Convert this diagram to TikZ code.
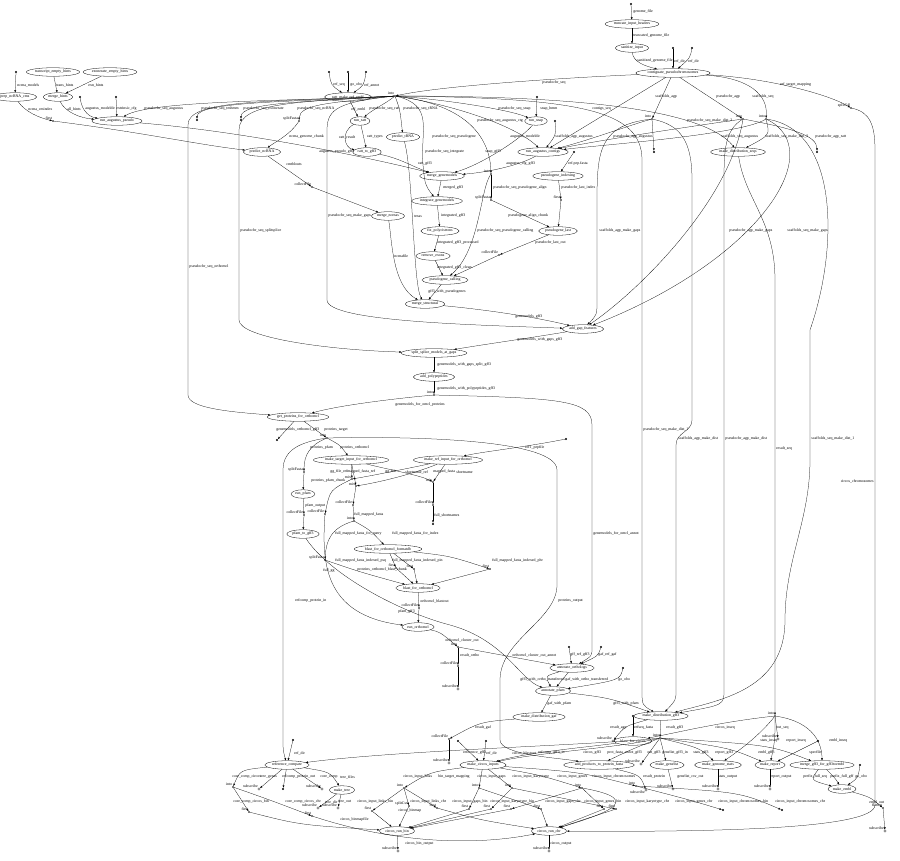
\documentclass[tikz,border=0pt]{standalone}
\usepackage{fontspec}
\setmainfont{Liberation Serif}
\usetikzlibrary{shapes.geometric,arrows.meta}
\begin{document}
\catcode`\_=12
\begin{tikzpicture}[x=1pt,y=-1pt,line width=0.25pt,
  every node/.style={font=\fontsize{3.9}{4.3}\selectfont},
  proc/.style={ellipse,draw,line width=0.3pt,inner xsep=0.8pt,inner ysep=0.2pt,minimum height=8.5pt},
  src/.style={circle,fill,inner sep=0pt,minimum size=2.2pt},
  op/.style={circle,fill,inner sep=0pt,minimum size=1.6pt,label distance=-0.4pt,label={[lb]above left:#1}},
  sub/.style={circle,draw,fill=white,inner sep=0pt,minimum size=2.4pt,label distance=-0.4pt,label={[lb]above left:#1}},
  subbl/.style={circle,draw,fill=white,inner sep=0pt,minimum size=2.4pt,label distance=-0.4pt,label={[lb]below left:#1}},
  lb/.style={inner sep=0.2pt},
  el/.style={inner sep=0.2pt,anchor=west},
  e/.style={draw,-{Latex[length=2.4pt,width=1.9pt]}},
]
\useasboundingbox (0,0) rectangle (900,861);
% =============== NODES
% top chain
\node[src] (sgenome) at (631,4) {};
\node[proc] (trunc) at (632,24) {truncate_input_headers};
\node[proc] (sanit) at (632,48) {sanitize_input};
\node[src] (srefa) at (673,48) {};
\node[src] (srefb) at (692,48) {};
\node[proc] (contig) at (673,73) {contiguate_pseudochromosomes};
% left
\node[src] (sncrna) at (16,72) {};
\node[proc] (prep) at (15,97) {prep_ncRNA_cms};
\node[proc] (teh) at (53,72) {transcript_empty_hints};
\node[proc] (eeh) at (110,72) {exonerate_empty_hints};
\node[proc] (mh) at (58,97) {merge_hints};
\node[src] (samd) at (80,97) {};
\node[src] (secfg) at (116,97) {};
\node[proc] (rap) at (117,121) {run_augustus_pseudo};
\node[op=first] (ofirst1) at (53,121) {};
% mid top
\node[src] (sr1) at (329,72) {};
\node[src] (sr2) at (348,72) {};
\node[src] (sr3) at (366,72) {};
\node[proc] (rmre) at (348,97) {ratt_make_ref_embl};
\node[op=into] (ointo1) at (395,96) {};
\node[src] (ssink1) at (197,120) {};
\node[src] (ssink2) at (241,120) {};
\node[op=splitFasta] (osplit1) at (299,121) {};
\node[proc] (rratt) at (360,121) {run_ratt};
\node[proc] (ptrna) at (403,137) {predict_tRNA};
\node[proc] (pncrna) at (262,152) {predict_ncRNA};
\node[proc] (r2g) at (367,152) {ratt_to_gff3};
\node[op=collectFile] (ocol1) at (312,187) {};
\node[proc] (mnc) at (388,216) {merge_ncrnas};
% centre
\node[src] (ssnap) at (537,97) {};
\node[proc] (rsnap) at (536,121) {run_snap};
\node[src] (samd2) at (555,121) {};
\node[proc] (rac) at (543,152) {run_augustus_contigs};
\node[src] (spep) at (574,152) {};
\node[proc] (pidx) at (558,176) {pseudogene_indexing};
\node[op=into] (ointops) at (491,174) {};
\node[op=splitFasta] (osplitps) at (491,200) {};
\node[op=first] (ofirstps) at (561,200) {};
\node[proc] (plast) at (558,231) {pseudogene_last};
\node[op=collectFile] (ocolps) at (499,255) {};
\node[proc] (mgm) at (442,176) {merge_genemodels};
\node[proc] (integ) at (437,201) {integrate_genemodels};
\node[proc] (fixp) at (440,231) {fix_polycistrons};
\node[proc] (remx) at (433,256) {remove_exons};
\node[proc] (pcall) at (445,280) {pseudogene_calling};
\node[proc] (mstr) at (425,304) {merge_structural};
\node[proc] (agf) at (583,329) {add_gap_features};
\node[proc] (sspl) at (434,353) {split_splice_models_at_gaps};
\node[proc] (addp) at (434,377) {add_polypeptides};
\node[op=into] (ointo5) at (434,395) {};
% right top
\node[op=into] (ointo2) at (652,119) {};
\node[op=into] (ointo3) at (743,119) {};
\node[op=into] (ointo4) at (766,119) {};
\node[src] (ssink3) at (654,152) {};
\node[src] (ssink4) at (817,152) {};
\node[proc] (mds) at (738,152) {make_distribution_seqs};
\node[op=splitGff] (osplitgff) at (851,108) {};
% lower middle
\node[proc] (gpo) at (298,417) {get_proteins_for_orthomcl};
\node[src] (ssink5) at (277,440) {};
\node[op=into] (ointo6) at (327,438) {};
\node[proc] (mtio) at (351,460) {make_target_input_for_orthomcl};
\node[proc] (mrio) at (448,460) {make_ref_input_for_orthomcl};
\node[src] (srefpep) at (566,439) {};
\node[op=splitFasta] (osplitpfam) at (304,472) {};
\node[proc] (rpfam) at (303,494) {run_pfam};
\node[op=collectFile] (ocolpfam) at (304,515) {};
\node[proc] (pfam2) at (303,534) {pfam_to_gff3};
\node[op=mix] (omixa) at (352,479) {};
\node[op=mix] (omixb) at (356,486) {};
\node[op=mix] (omixc) at (433,482) {};
\node[op=collectFile] (ocolgg) at (325,514) {};
\node[op=collectFile] (ocolfa) at (353,505) {};
\node[op=collectFile] (ocolsn) at (433,505) {};
\node[src] (ssink6) at (433,524) {};
\node[op=into] (ointofa) at (354,521) {};
\node[proc] (fdb) at (388,549) {blast_for_orthomcl_formatdb};
\node[op=splitFasta] (osplitbl) at (325,560) {};
\node[op=first] (ofa) at (396,568) {};
\node[op=first] (ofb) at (414,569) {};
\node[op=first] (ofc) at (490,569) {};
\node[proc] (blast) at (418,588) {blast_for_orthomcl};
\node[op=collectFile] (ocolbl) at (419,608) {};
\node[proc] (romcl) at (418,627) {run_orthomcl};
% orthologs / annotation
\node[op=into] (ointoom) at (458,647) {};
\node[op=collectFile] (ocolor) at (458,666) {};
\node[sub=subscribe] (osubor) at (458,689) {};
\node[src] (sgffref) at (569,647) {};
\node[src] (sgafref) at (601,647) {};
\node[proc] (aorth) at (572,668) {annotate_orthologs};
\node[src] (sgoobo) at (623,668) {};
\node[proc] (apfam) at (553,691) {annotate_pfam};
\node[proc] (mdgaf) at (539,717) {make_distribution_gaf};
\node[proc] (mdg3) at (661,716) {make_distribution_gff3};
\node[op=collectFile] (ocolgaf) at (449,739) {};
\node[sub=subscribe] (osubgaf) at (449,763) {};
% bottom right
\node[src] (spt) at (633,716) {};
\node[proc] (bfc) at (633,741) {blast_for_circos};
\node[sub=subscribe] (osubd) at (613,741) {};
\node[op=into] (ointog3) at (660,738) {};
\node[op=into] (ointoseq) at (775,716) {};
\node[sub=subscribe] (osubseq) at (778,739) {};
\node[src] (sseqf) at (818,741) {};
\node[src] (smci1) at (458,741) {};
\node[src] (smci2) at (486,741) {};
\node[proc] (mci) at (483,765) {make_circos_inputs};
\node[proc] (app) at (599,765) {add_products_to_protein_fasta};
\node[sub=subscribe] (osubog) at (641,764) {};
\node[proc] (mgl) at (667,765) {make_genelist};
\node[proc] (mgs) at (718,765) {make_genome_stats};
\node[proc] (mrep) at (770,765) {make_report};
\node[proc] (mge) at (822,765) {merge_gff3_for_gff3toembl};
\node[src] (sgoobo2) at (860,765) {};
\node[proc] (membl) at (842,789) {make_embl};
\node[op=flatten] (oembl) at (883,808) {};
\node[sub=subscribe] (osubembl) at (885,831) {};
\node[sub=subscribe] (osubgl) at (673,789) {};
\node[sub=subscribe] (osubst) at (718,789) {};
\node[sub=subscribe] (osubrp) at (770,789) {};
\node[subbl=subscribe] (osubpr) at (646,790) {};
% bottom left
\node[src] (srefdir) at (293,740) {};
\node[proc] (rcmp) at (287,765) {reference_compare};
\node[op=into] (ointocc) at (233,787) {};
\node[sub=subscribe] (osubtg) at (259,789) {};
\node[src] (ssink7) at (283,789) {};
\node[sub=subscribe] (osubcc) at (322,789) {};
\node[proc] (mtree) at (342,790) {make_tree};
\node[op=first] (ofcb) at (249,812) {};
\node[op=first] (ofcc) at (312,816) {};
\node[sub=subscribe] (osubtd) at (318,808) {};
\node[sub=subscribe] (osubto) at (338,808) {};
\node[proc] (crb) at (397,831) {circos_run_bin};
\node[sub=subscribe] (osubcb) at (398,851) {};
\node[proc] (crc) at (549,831) {circos_run_chr};
\node[sub=subscribe] (osubcr) at (549,851) {};
\node[op=into] (ointolk) at (404,788) {};
\node[op=first] (oflb) at (372,811) {};
\node[op=first] (oflc) at (437,808) {};
\node[op=splitCsv] (osplitcsv) at (409,806) {};
\node[op=into] (ointogp) at (479,788) {};
\node[op=into] (ointoka) at (512,788) {};
\node[op=into] (ointoge) at (582,788) {};
\node[op=into] (ointoch) at (636,786) {};
\node[op=first] (of1) at (469,809) {};
\node[op=first] (of2) at (491,809) {};
\node[op=first] (of3) at (511,809) {};
\node[op=first] (of4) at (541,809) {};
\node[op=first] (of5) at (604,809) {};
\node[op=first] (of6) at (616,809) {};
\node[src] (ssink8) at (723,810) {};
\node[src] (ssink9) at (782,810) {};
% =============== EDGES
\draw[e] (sgenome) -- (trunc);
\draw[e] (trunc) -- (sanit);
\draw[e] (sanit) .. controls (633,62) and (645,66) .. (contig);
\draw[e] (srefa) -- (contig);
\draw[e] (srefb) .. controls (690,58) .. (contig);
\draw[e] (sncrna) -- (prep);
\draw[e] (teh) -- (mh);
\draw[e] (eeh) -- (mh);
\draw[e] (prep) .. controls (25,112) and (40,118) .. (ofirst1);
\draw[e] (mh) .. controls (65,112) and (80,118) .. (rap);
\draw[e] (samd) .. controls (82,112) and (90,117) .. (rap);
\draw[e] (secfg) -- (rap);
\draw[e] (sr1) .. controls (331,85) .. (rmre);
\draw[e] (sr2) -- (rmre);
\draw[e] (sr3) .. controls (364,85) .. (rmre);
\draw[e] (rmre) -- (rratt);
\draw[e] (rratt) .. controls (340,132) and (345,148) .. (r2g);
\draw[e] (rratt) -- (r2g);
\draw[e] (ointo1) .. controls (385,104) and (372,110) .. (rratt);
\draw[e] (ointo1) .. controls (400,110) .. (ptrna);
\draw[e] (osplit1) .. controls (290,135) and (275,142) .. (pncrna);
\draw[e] (ofirst1) .. controls (140,132) and (200,145) .. (pncrna);
\draw[e] (pncrna) -- (ocol1);
\draw[e] (ocol1) -- (mnc);
\draw[e] (ointo1) .. controls (300,101) and (150,100) .. (rap);
\draw[e] (ointo1) .. controls (300,102) and (197,101) .. (ssink1);
\draw[e] (ointo1) .. controls (310,102) and (241,102) .. (ssink2);
\draw[e] (ointo1) .. controls (330,103) and (300,104) .. (osplit1);
\draw[e] (ointo1) .. controls (260,102) and (188,100) .. (188,125) -- (188,395) .. controls (188,408) and (230,412) .. (gpo);
\draw[e] (ointo1) .. controls (300,102) and (239,102) .. (239,130) -- (239,320) .. controls (239,338) and (330,350) .. (sspl);
\draw[e] (ointo1) .. controls (340,102) and (327,108) .. (327,130) -- (327,300) .. controls (327,322) and (480,325) .. (agf);
\draw[e] (ointo1) .. controls (435,105) and (420,130) .. (423,165) .. controls (425,185) .. (integ);
\draw[e] (ointo1) .. controls (470,105) and (490,140) .. (ointops);
\draw[e] (ointo1) .. controls (450,100) and (510,110) .. (rsnap);
\draw[e] (ointo1) .. controls (450,104) and (515,125) .. (rac);
\draw[e] (ointo1) .. controls (550,96) and (700,105) .. (mds);
\draw[e] (ointo1) .. controls (580,98) and (642,110) .. (642,160) -- (642,690) .. controls (642,705) .. (mdg3);
\draw[e] (contig) .. controls (560,78) and (440,86) .. (ointo1);
\draw[e] (ssnap) -- (rsnap);
\draw[e] (samd2) .. controls (556,135) .. (rac);
\draw[e] (contig) -- (rac);
\draw[e] (rsnap) .. controls (520,140) and (480,165) .. (mgm);
\draw[e] (rac) .. controls (520,165) and (490,172) .. (mgm);
\draw[e] (r2g) .. controls (400,158) and (415,168) .. (mgm);
\draw[e] (rap) .. controls (250,132) and (380,160) .. (mgm);
\draw[e] (spep) -- (pidx);
\draw[e] (pidx) -- (ofirstps);
\draw[e] (ointops) -- (osplitps);
\draw[e] (osplitps) -- (plast);
\draw[e] (ofirstps) -- (plast);
\draw[e] (plast) -- (ocolps);
\draw[e] (ocolps) -- (pcall);
\draw[e] (ointops) .. controls (480,190) and (480,250) .. (pcall);
\draw[e] (mgm) -- (integ);
\draw[e] (integ) -- (fixp);
\draw[e] (fixp) -- (remx);
\draw[e] (remx) -- (pcall);
\draw[e] (pcall) -- (mstr);
\draw[e] (mnc) .. controls (392,240) and (392,285) .. (mstr);
\draw[e] (ptrna) .. controls (413,170) and (413,285) .. (mstr);
\draw[e] (mstr) .. controls (490,310) and (540,318) .. (agf);
\draw[e] (agf) .. controls (530,338) and (480,345) .. (sspl);
\draw[e] (sspl) -- (addp);
\draw[e] (addp) -- (ointo5);
\draw[e] (contig) -- (ointo2);
\draw[e] (contig) -- (ointo3);
\draw[e] (contig) .. controls (750,78) and (768,95) .. (ointo4);
\draw[e] (contig) .. controls (770,78) and (830,95) .. (osplitgff);
\draw[e] (ointo2) -- (ssink3);
\draw[e] (ointo2) .. controls (630,125) and (590,140) .. (rac);
\draw[e] (ointo3) .. controls (700,125) and (600,140) .. (rac);
\draw[e] (ointo4) .. controls (740,135) and (600,145) .. (rac);
\draw[e] (ointo3) .. controls (790,128) and (817,135) .. (ssink4);
\draw[e] (ointo4) .. controls (770,135) .. (mds);
\draw[e] (ointo2) .. controls (600,125) and (597,150) .. (597,200) -- (597,300) .. controls (597,315) .. (agf);
\draw[e] (ointo3) .. controls (730,200) and (640,290) .. (agf);
\draw[e] (ointo4) .. controls (830,150) and (760,260) .. (agf);
\draw[e] (ointo2) .. controls (680,125) and (692,140) .. (692,180) -- (692,420) .. controls (692,432) and (676,432) .. (676,445) -- (676,690) .. controls (676,700) .. (mdg3);
\draw[e] (ointo3) .. controls (725,130) and (724,150) .. (724,180) -- (724,690) .. controls (724,705) .. (mdg3);
\draw[e] (ointo4) .. controls (840,130) and (838,250) .. (810,330) -- (810,460) .. controls (810,520) and (785,560) .. (785,620) .. controls (785,690) and (720,700) .. (mdg3);
\draw[e] (mds) .. controls (745,200) and (775,220) .. (775,280) -- (ointoseq);
\draw[e] (osplitgff) .. controls (870,112) and (875,125) .. (875,150) -- (875,805) .. controls (875,830) and (700,832) .. (crc);
\draw[e] (gpo) -- (ssink5);
\draw[e] (gpo) -- (ointo6);
\draw[e] (ointo5) .. controls (400,398) and (340,405) .. (gpo);
\draw[e] (ointo6) .. controls (310,445) and (304,455) .. (osplitpfam);
\draw[e] (ointo6) .. controls (340,445) .. (mtio);
\draw[e] (osplitpfam) -- (rpfam);
\draw[e] (rpfam) -- (ocolpfam);
\draw[e] (ocolpfam) -- (pfam2);
\draw[e] (srefpep) .. controls (520,448) and (480,452) .. (mrio);
\draw[e] (mtio) -- (omixa);
\draw[e] (mrio) .. controls (400,470) and (370,476) .. (omixa);
\draw[e] (mtio) -- (omixb);
\draw[e] (mrio) .. controls (410,475) and (380,482) .. (omixb);
\draw[e] (mtio) .. controls (390,470) and (420,475) .. (omixc);
\draw[e] (mrio) -- (omixc);
\draw[e] (omixa) .. controls (330,490) .. (ocolgg);
\draw[e] (omixb) -- (ocolfa);
\draw[e] (omixc) -- (ocolsn);
\draw[e] (ocolsn) -- (ssink6);
\draw[e] (ocolfa) -- (ointofa);
\draw[e] (ointofa) .. controls (330,528) and (326,542) .. (osplitbl);
\draw[e] (ointofa) .. controls (370,530) .. (fdb);
\draw[e] (fdb) -- (ofa);
\draw[e] (fdb) -- (ofb);
\draw[e] (fdb) .. controls (450,556) .. (ofc);
\draw[e] (ofa) -- (blast);
\draw[e] (ofb) -- (blast);
\draw[e] (ofc) -- (blast);
\draw[e] (osplitbl) .. controls (360,572) .. (blast);
\draw[e] (blast) -- (ocolbl);
\draw[e] (ocolbl) -- (romcl);
\draw[e] (ocolgg) .. controls (322,560) and (322,615) .. (romcl);
\draw[e] (pfam2) .. controls (330,575) and (400,612) .. (450,625) .. controls (505,640) and (520,680) .. (apfam);
\draw[e] (romcl) .. controls (440,632) .. (ointoom);
\draw[e] (ointoom) -- (aorth);
\draw[e] (ointoom) -- (ocolor);
\draw[e] (ocolor) -- (osubor);
\draw[e] (ointo5) .. controls (560,398) and (592,400) .. (592,425) -- (592,648) .. controls (592,656) .. (aorth);
\draw[e] (sgffref) -- (aorth);
\draw[e] (sgafref) .. controls (598,656) .. (aorth);
\draw[e] (aorth) .. controls (545,676) .. (apfam);
\draw[e] (aorth) -- (apfam);
\draw[e] (sgoobo) .. controls (620,680) .. (apfam);
\draw[e] (apfam) -- (mdgaf);
\draw[e] (apfam) .. controls (610,698) .. (mdg3);
\draw[e] (mdgaf) .. controls (480,722) .. (ocolgaf);
\draw[e] (ocolgaf) -- (osubgaf);
\draw[e] (ointo6) .. controls (420,436) and (557,440) .. (557,470) -- (557,585) .. controls (557,620) and (500,640) .. (500,680) -- (500,740) .. controls (500,755) and (560,758) .. (app);
\draw[e] (spt) -- (bfc);
\draw[e] (mdg3) .. controls (625,726) .. (osubd);
\draw[e] (mdg3) -- (ointog3);
\draw[e] (bfc) .. controls (580,748) and (530,752) .. (mci);
\draw[e] (smci1) -- (mci);
\draw[e] (smci2) -- (mci);
\draw[e] (ointog3) .. controls (620,748) and (540,752) .. (mci);
\draw[e] (ointog3) .. controls (630,750) .. (app);
\draw[e] (ointog3) -- (osubog);
\draw[e] (ointog3) -- (mgl);
\draw[e] (ointog3) .. controls (700,748) .. (mgs);
\draw[e] (ointog3) .. controls (730,748) .. (mrep);
\draw[e] (ointog3) .. controls (770,745) .. (mge);
\draw[e] (ointog3) .. controls (600,745) and (400,750) .. (rcmp);
\draw[e] (ointoseq) .. controls (720,722) and (680,732) .. (bfc);
\draw[e] (ointoseq) -- (osubseq);
\draw[e] (ointoseq) .. controls (760,735) and (740,750) .. (mgs);
\draw[e] (ointoseq) .. controls (775,740) .. (mrep);
\draw[e] (ointoseq) .. controls (815,722) and (822,745) .. (mge);
\draw[e] (sseqf) -- (mrep);
\draw[e] (mgl) -- (osubgl);
\draw[e] (mgs) -- (osubst);
\draw[e] (mrep) -- (osubrp);
\draw[e] (app) .. controls (640,775) .. (osubpr);
\draw[e] (mge) .. controls (810,780) .. (membl);
\draw[e] (mge) .. controls (835,778) .. (membl);
\draw[e] (sgoobo2) .. controls (858,778) .. (membl);
\draw[e] (membl) .. controls (870,797) .. (oembl);
\draw[e] (oembl) -- (osubembl);
\draw[e] (srefdir) -- (rcmp);
\draw[e] (ointo6) .. controls (300,442) and (283,450) .. (283,470) -- (283,740) .. controls (283,750) .. (rcmp);
\draw[e] (rcmp) .. controls (240,770) .. (ointocc);
\draw[e] (rcmp) -- (osubtg);
\draw[e] (rcmp) -- (ssink7);
\draw[e] (rcmp) -- (osubcc);
\draw[e] (rcmp) .. controls (330,772) .. (mtree);
\draw[e] (ointocc) -- (ofcb);
\draw[e] (ointocc) .. controls (270,800) .. (ofcc);
\draw[e] (ofcb) .. controls (300,825) .. (crb);
\draw[e] (ofcc) .. controls (400,845) and (480,845) .. (crc);
\draw[e] (mtree) -- (osubtd);
\draw[e] (mtree) -- (osubto);
\draw[e] (mci) .. controls (430,772) .. (ointolk);
\draw[e] (ointolk) -- (oflb);
\draw[e] (ointolk) -- (oflc);
\draw[e] (ointolk) -- (osplitcsv);
\draw[e] (oflb) -- (crb);
\draw[e] (osplitcsv) -- (crb);
\draw[e] (oflc) .. controls (480,820) .. (crc);
\draw[e] (mci) -- (ointogp);
\draw[e] (mci) -- (ointoka);
\draw[e] (mci) .. controls (540,775) .. (ointoge);
\draw[e] (mci) .. controls (580,772) .. (ointoch);
\draw[e] (ointogp) -- (of1);
\draw[e] (ointogp) -- (of4);
\draw[e] (ointoka) -- (of2);
\draw[e] (ointoka) -- (of6);
\draw[e] (ointoge) -- (of3);
\draw[e] (ointoge) -- (of5);
\draw[e] (ointoch) .. controls (690,800) .. (ssink8);
\draw[e] (ointoch) .. controls (740,792) .. (ssink9);
\draw[e] (ointoge) .. controls (650,800) and (600,815) .. (crc);
\draw[e] (of1) -- (crb);
\draw[e] (of2) -- (crb);
\draw[e] (of3) -- (crb);
\draw[e] (of4) -- (crc);
\draw[e] (of5) -- (crc);
\draw[e] (of6) -- (crc);
\draw[e] (crb) -- (osubcb);
\draw[e] (crc) -- (osubcr);
% =============== LABELS
\node[el] at (633,12) {genome_file};
\node[el] at (633,36) {truncated_genome_file};
\node[el] at (637,61) {sanitized_genome_file};
\node[el] at (674,61) {ref_dir};
\node[el] at (688,61) {ref_dir};
\node[el] at (17,85) {ncrna_models};
\node[el] at (56,85) {trans_hints};
\node[el] at (88,85) {exn_hints};
\node[el] at (28,109) {ncrna_cmindex};
\node[el] at (67,109) {all_hints};
\node[el] at (85,109) {augustus_modeldir};
\node[el] at (116,109) {extrinsic_cfg};
\node[el] at (144,109) {pseudochr_seq_augustus};
\node[el] at (333,85) {ref_seq};
\node[el] at (350,85) {go_obo};
\node[el] at (364,85) {ref_annot};
\node[el] at (351,109) {ref_embl};
\node[el] at (369,109) {pseudochr_seq_ratt};
\node[el] at (403,109) {pseudochr_seq_tRNA};
\node[el] at (339,137) {ratt_result};
\node[el] at (367,137) {ratt_types};
\node[el] at (289,137) {ncrna_genome_chunk};
\node[el] at (286,164) {cmtblouts};
\node[el] at (542,83) {pseudochr_seq};
\node[el] at (201,109) {pseudochr_seq_tmhmm};
\node[el] at (243,109) {pseudochr_seq_exonerate};
\node[el] at (297,109) {pseudochr_seq_ncRNA};
\node[el] at (189,267) {pseudochr_seq_orthomcl};
\node[el] at (240,231) {pseudochr_seq_splitsplice};
\node[el] at (328,216) {pseudochr_seq_make_gaps};
\node[el] at (425,152) {pseudochr_seq_integrate};
\node[el] at (432,137) {pseudochr_seq_pseudogene};
\node[el] at (498,109) {pseudochr_seq_snap};
\node[el] at (477,121) {pseudochr_seq_augustus_ctg};
\node[el] at (687,121) {pseudochr_seq_make_dist_2};
\node[el] at (643,430) {pseudochr_seq_make_dist_1};
\node[el] at (540,109) {snap_hmm};
\node[el] at (510,137) {augustus_modeldir};
\node[el] at (555,137) {scaffolds_agp_augustus};
\node[el] at (613,137) {pseudochr_agp_augustus};
\node[el] at (592,109) {contigs_seq};
\node[el] at (485,152) {snap_gff3};
\node[el] at (506,164) {augustus_ctg_gff3};
\node[el] at (418,164) {ratt_gff3};
\node[el] at (319,152) {augustus_pseudo_gff3};
\node[el] at (568,164) {ref.pep.fasta};
\node[el] at (493,188) {pseudochr_seq_pseudogene_align};
\node[el] at (561,188) {pseudochr_last_index};
\node[el] at (508,216) {pseudogene_align_chunk};
\node[el] at (477,231) {pseudochr_seq_pseudogene_calling};
\node[el] at (535,243) {pseudochr_last_out};
\node[el] at (443,188) {merged_gff3};
\node[el] at (441,216) {integrated_gff3};
\node[el] at (437,243) {integrated_gff3_processed};
\node[el] at (437,268) {integrated_gff3_clean};
\node[el] at (428,292) {gff3_with_pseudogenes};
\node[el] at (394,256) {ncrnafile};
\node[el] at (414,216) {trnas};
\node[el] at (515,317) {genemodels_gff3};
\node[el] at (517,340) {genemodels_with_gaps_gff3};
\node[el] at (437,365) {genemodels_with_gaps_split_gff3};
\node[el] at (437,389) {genemodels_with_polypeptides_gff3};
\node[el] at (395,405) {genemodels_for_omcl_proteins};
\node[el] at (655,97) {scaffolds_agp};
\node[el] at (716,97) {pseudochr_agp};
\node[el] at (752,97) {scaffolds_seq};
\node[el] at (780,85) {ref_target_mapping};
\node[el] at (721,137) {scaffolds_seq_augustus};
\node[el] at (765,137) {scaffolds_seq_make_dist_2};
\node[el] at (815,137) {pseudochr_agp_ratt};
\node[el] at (599,231) {scaffolds_agp_make_gaps};
\node[el] at (729,231) {pseudochr_agp_make_gaps};
\node[el] at (787,231) {scaffolds_seq_make_gaps};
\node[el] at (678,439) {scaffolds_agp_make_dist};
\node[el] at (725,439) {pseudochr_agp_make_dist};
\node[el] at (776,449) {result_seq};
\node[el] at (811,439) {scaffolds_seq_make_dist_1};
\node[inner sep=0.2pt,anchor=east] at (874,481) {circos_chromosomes};
\node[el] at (276,430) {genemodels_orthomcl_gff3};
\node[el] at (324,430) {proteins_target};
\node[el] at (310,448) {proteins_pfam};
\node[el] at (340,448) {proteins_orthomcl};
\node[el] at (525,448) {ref1_pepfile};
\node[el] at (311,481) {proteins_pfam_chunk};
\node[el] at (305,506) {pfam_output};
\node[el] at (330,472) {gg_file_ref};
\node[el] at (347,472) {mapped_fasta_ref};
\node[el] at (385,472) {gg_file};
\node[el] at (405,472) {shortname_ref};
\node[el] at (433,472) {mapped_fasta};
\node[el] at (456,472) {shortname};
\node[el] at (434,515) {full_shortnames};
\node[el] at (354,515) {full_mapped_fasta};
\node[el] at (335,534) {full_mapped_fasta_for_query};
\node[el] at (392,534) {full_mapped_fasta_for_index};
\node[el] at (335,561) {full_mapped_fasta_indexed_psq};
\node[el] at (392,561) {full_mapped_fasta_indexed_pin};
\node[el] at (492,561) {full_mapped_fasta_indexed_phr};
\node[el] at (357,570) {proteins_orthomcl_blast_chunk};
\node[el] at (323,571) {full_gg};
\node[el] at (420,601) {orthomcl_blastout};
\node[el] at (398,612) {pfam_gff3};
\node[el] at (445,640) {orthomcl_cluster_out};
\node[el] at (460,655) {result_ortho};
\node[el] at (512,655) {orthomcl_cluster_out_annot};
\node[el] at (570,655) {gff_ref_gff3};
\node[el] at (598,655) {gaf_ref_gaf};
\node[el] at (520,680) {gff3_with_ortho_transferred};
\node[el] at (565,680) {gaf_with_ortho_transferred};
\node[el] at (618,680) {go_obo};
\node[el] at (547,704) {gaf_with_pfam};
\node[el] at (613,704) {gff3_with_pfam};
\node[el] at (475,728) {result_gaf};
\node[el] at (593,534) {genemodels_for_omcl_annot};
\node[el] at (558,601) {proteins_output};
\node[el] at (610,728) {result_agp};
\node[el] at (634,728) {refseq_fasta};
\node[el] at (666,728) {result_gff3};
\node[el] at (715,728) {circos_inseq};
\node[el] at (776,728) {out_seq};
\node[el] at (760,741) {stats_inseq};
\node[el] at (786,741) {report_inseq};
\node[el] at (829,741) {embl_inseq};
\node[el] at (809,753) {specfile};
\node[el] at (512,753) {circos_blastout};
\node[el] at (463,753) {reference_gff3};
\node[el] at (486,753) {ref_dir};
\node[el] at (538,753) {refcomp_gff3_in};
\node[el] at (583,753) {circos_gff3};
\node[el] at (607,753) {prot_fasta_annot_gff3};
\node[el] at (647,753) {out_gff3};
\node[el] at (662,753) {genelist_gff3_in};
\node[el] at (693,753) {stats_gff3};
\node[el] at (715,753) {report_gff3};
\node[el] at (758,753) {embl_gff3};
\node[el] at (677,777) {genelist_csv_out};
\node[el] at (718,777) {stats_output};
\node[el] at (770,777) {report_output};
\node[el] at (803,777) {prefix_full_seq};
\node[el] at (830,777) {prefix_full_gff};
\node[el] at (855,777) {go_obo};
\node[el] at (869,802) {embl_out};
\node[el] at (294,753) {ref_dir};
\node[el] at (232,777) {core_comp_circos};
\node[el] at (260,777) {tree_genes};
\node[el] at (282,777) {refcomp_protein_out};
\node[el] at (320,777) {core_comp};
\node[el] at (340,777) {tree_files};
\node[el] at (233,802) {core_comp_circos_bin};
\node[el] at (285,802) {core_comp_circos_chr};
\node[el] at (325,802) {tree_dir};
\node[el] at (338,802) {tree_out};
\node[el] at (403,777) {circos_input_links};
\node[el] at (438,777) {bin_target_mapping};
\node[el] at (477,777) {circos_input_gaps};
\node[el] at (512,777) {circos_input_karyotype};
\node[el] at (557,777) {circos_input_genes};
\node[el] at (592,777) {circos_input_chromosomes};
\node[el] at (643,777) {result_protein};
\node[el] at (357,802) {circos_input_links_bin};
\node[el] at (410,802) {circos_input_links_chr};
\node[el] at (452,802) {circos_input_gaps_bin};
\node[el] at (490,802) {circos_input_karyotype_bin};
\node[el] at (545,802) {circos_input_gaps_chr};
\node[el] at (584,802) {circos_input_genes_bin};
\node[el] at (625,802) {circos_input_karyotype_chr};
\node[el] at (675,802) {circos_input_genes_chr};
\node[el] at (718,802) {circos_input_chromosomes_bin};
\node[el] at (775,802) {circos_input_chromosomes_chr};
\node[el] at (398,811) {circos_binmap};
\node[el] at (340,820) {circos_binmapfile};
\node[el] at (405,844) {circos_bin_output};
\node[el] at (550,844) {circos_output};
\node[el] at (295,601) {refcomp_protein_in};
\end{tikzpicture}
\end{document}
